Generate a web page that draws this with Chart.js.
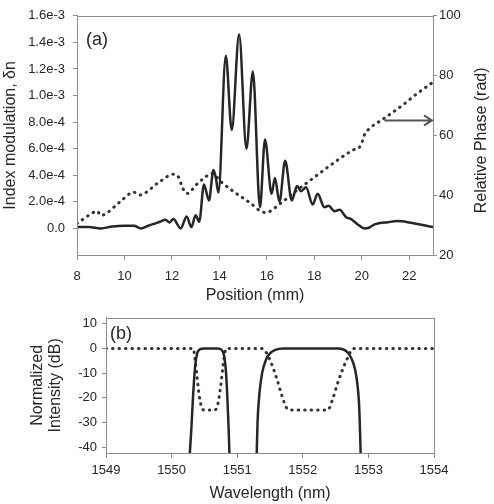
<!DOCTYPE html>
<html>
<head>
<meta charset="utf-8">
<script src="https://cdn.jsdelivr.net/npm/chart.js@4.4.1/dist/chart.umd.min.js"></script>
<style>
  body { margin: 0; background: #fff; }
  #wrap { position: relative; width: 494px; height: 504px; }
  canvas { position: absolute; left: 0; }
</style>
</head>
<body>
<div id="wrap">
  <canvas id="topChart" width="494" height="305" style="top:0"></canvas>
  <canvas id="bottomChart" width="494" height="199" style="top:305px"></canvas>
</div>
<script>
// ---- panel (a): index modulation (units of 1e-3) vs position ----
const positionMm = [8.0, 8.5, 9.0, 9.5, 10.0, 10.4, 10.7, 11.0, 11.25, 11.5, 11.73, 11.9, 12.06, 12.37,
  12.62, 12.82, 13.0, 13.15, 13.35, 13.56, 13.75, 13.85, 13.96, 14.27, 14.52, 14.83, 15.14, 15.41,
  15.71, 15.92, 16.2, 16.34, 16.53, 16.77, 17.05, 17.27, 17.44, 17.65, 17.93, 18.14, 18.42, 18.6,
  18.85, 19.06, 19.34, 19.55, 19.83, 20.11, 20.3, 20.54, 21.1, 21.5, 22.0, 23.0];
const indexMod = [0.01, 0.01, 0.0, 0.015, 0.02, 0.02, 0.0, 0.02, 0.035, 0.05, 0.065, 0.045, 0.07, 0.0,
  0.09, 0.01, 0.1, 0.05, 0.33, 0.21, 0.44, 0.38, 0.27, 1.30, 0.74, 1.46, 0.60, 1.18,
  0.16, 0.67, 0.26, 0.38, 0.20, 0.51, 0.21, 0.32, 0.28, 0.31, 0.18, 0.26, 0.16, 0.17,
  0.13, 0.14, 0.085, 0.07, 0.03, 0.0, 0.005, 0.03, 0.047, 0.055, 0.045, 0.01];

// ---- panel (a): relative phase (rad) ----
const phasePositionMm = [8.0, 8.25, 8.6, 8.85, 9.0, 9.25, 9.8, 10.4, 10.6, 11.5, 12.05, 12.25, 12.4,
  12.55, 12.7, 12.95, 13.35, 13.7, 14.05, 14.6, 15.3, 15.75, 15.95, 16.6, 17.1, 18.0, 18.85, 19.6,
  19.97, 20.1, 20.4, 20.85, 21.7, 22.3, 23.0];
const relativePhase = [30.5, 31.9, 33.8, 34.7, 33.2, 34.0, 37.7, 41.0, 40.0, 44.6, 47.0, 46.4, 43.5,
  41.0, 40.6, 42.9, 45.7, 47.3, 44.6, 41.2, 37.4, 34.6, 34.2, 37.4, 40.6, 46.0, 51.0, 55.0,
  56.8, 60.0, 62.8, 65.2, 70.0, 73.8, 77.8];

const positionTicks = [8, 10, 12, 14, 16, 18, 20, 22];
const indexTicks = [0, 0.2, 0.4, 0.6, 0.8, 1.0, 1.2, 1.4, 1.6];
const indexTickLabels = ['0.0', '2.0e-4', '4.0e-4', '6.0e-4', '8.0e-4', '1.0e-3', '1.2e-3', '1.4e-3', '1.6e-3'];
const phaseTicks = [20, 40, 60, 80, 100];
const arrowPhase = 65, arrowFrom = 20.95;

// ---- panel (b): normalized intensity (dB) vs wavelength ----
const band1Wl = [1550.26, 1550.30, 1550.33, 1550.36, 1550.39, 1550.43, 1550.5, 1550.7, 1550.76,
  1550.80, 1550.83, 1550.85, 1550.87, 1550.89];
const band1Db = [-50, -33, -18, -7, -2, -0.4, 0, 0, -0.5, -3, -10, -20, -33, -50];
const band2Wl = [1551.29, 1551.31, 1551.34, 1551.38, 1551.44, 1551.5, 1551.58, 1551.7, 1552.55,
  1552.64, 1552.71, 1552.77, 1552.82, 1552.86, 1552.89];
const band2Db = [-50, -30, -18, -10, -4.5, -2, -0.6, 0, 0, -0.7, -2.5, -6, -12, -24, -50];
const dipWl = [1549, 1550.33, 1550.36, 1550.39, 1550.42, 1550.46, 1550.5, 1550.66, 1550.71, 1550.75,
  1550.78, 1550.81, 1550.84, 1551.38, 1551.45, 1551.52, 1551.6, 1551.68, 1551.75, 1551.8, 1552.38,
  1552.45, 1552.52, 1552.6, 1552.68, 1552.77, 1554];
const dipDb = [0, 0, -5, -12, -19, -24, -25, -25, -22, -15, -8, -2, 0, 0, -2, -6, -12, -19, -24, -25, -25,
  -21, -15, -9, -4, 0, 0];
const wavelengthTicks = [1549, 1550, 1551, 1552, 1553, 1554];
const dbTicks = [-40, -30, -20, -10, 0, 10];

Chart.defaults.font.family = "'Liberation Sans', Arial, sans-serif";
Chart.defaults.font.size = 13;
Chart.defaults.color = '#262626';

const AXIS = '#8c8c8c';
const INK = '#262626';

const pts = (xs, ys) => xs.map((x, i) => ({ x: x, y: ys[i] }));
const fixedTicks = vals => scale => { scale.ticks = vals.map(v => ({ value: v })); };
const plain = v => String(v);
const axisGrid = { drawOnChartArea: false, drawTicks: true, tickLength: 5, color: AXIS };
const solid = { borderColor: INK, borderWidth: 2.5, pointRadius: 0, cubicInterpolationMode: 'monotone' };
const dotted = { borderColor: '#333', borderWidth: 3, borderDash: [0.5, 6], borderCapStyle: 'round',
  pointRadius: 0, cubicInterpolationMode: 'monotone' };

const framePlugin = {
  id: 'frame',
  afterDraw(chart, args, opts) {
    const { ctx, chartArea: a } = chart;
    ctx.save();
    ctx.strokeStyle = AXIS;
    ctx.lineWidth = 1;
    ctx.strokeRect(Math.round(a.left) + 0.5, Math.round(a.top) + 0.5,
      Math.round(a.right - a.left), Math.round(a.bottom - a.top));
    ctx.fillStyle = INK;
    ctx.font = "18px 'Liberation Sans', Arial, sans-serif";
    ctx.textBaseline = 'middle';
    ctx.fillText(opts.tag, a.left + opts.dx, a.top + opts.dy);

    if (opts.arrow) {
      const x0 = chart.scales.x.getPixelForValue(arrowFrom);
      const x1 = a.right - 1;
      const y = chart.scales.y2.getPixelForValue(arrowPhase);
      ctx.strokeStyle = '#555';
      ctx.lineWidth = 2;
      ctx.beginPath();
      ctx.moveTo(x0, y); ctx.lineTo(x1, y);
      ctx.moveTo(x1 - 8, y - 5); ctx.lineTo(x1, y); ctx.lineTo(x1 - 8, y + 5);
      ctx.stroke();
    }
    if (opts.rightTitle) {
      ctx.translate(482, (a.top + a.bottom) / 2 + 5);
      ctx.rotate(-Math.PI / 2);
      ctx.textAlign = 'center';
      ctx.font = "16px 'Liberation Sans', Arial, sans-serif";
      ctx.fillText(opts.rightTitle, 0, 0);
    }
    ctx.restore();
  }
};

new Chart(document.getElementById('topChart'), {
  type: 'line',
  data: {
    datasets: [
      Object.assign({ data: pts(positionMm, indexMod), yAxisID: 'y' }, solid),
      Object.assign({ data: pts(phasePositionMm, relativePhase), yAxisID: 'y2' }, dotted)
    ]
  },
  options: {
    responsive: false,
    animation: false,
    layout: { padding: { top: 13, left: 0, right: 0, bottom: 0 } },
    plugins: {
      legend: { display: false },
      tooltip: { enabled: false },
      frame: { tag: '(a)', dx: 9, dy: 24, arrow: true, rightTitle: 'Relative Phase (rad)' }
    },
    scales: {
      x: {
        type: 'linear', min: 8, max: 23,
        afterBuildTicks: fixedTicks(positionTicks),
        afterFit: s => { s.height = 50; },
        grid: axisGrid,
        border: { color: AXIS },
        ticks: { padding: 9, maxRotation: 0, callback: plain },
        title: { display: true, text: 'Position (mm)', font: { size: 16 }, padding: { top: 0, bottom: 0 } }
      },
      y: {
        position: 'left', min: -0.2, max: 1.6,
        afterBuildTicks: fixedTicks(indexTicks),
        afterFit: s => { s.width = 77; },
        grid: Object.assign({}, axisGrid, { tickLength: 4 }),
        border: { color: AXIS },
        ticks: { padding: 8, callback: v => indexTickLabels[indexTicks.indexOf(v)] },
        title: { display: true, text: 'Index modulation, δn', font: { size: 16 }, padding: { top: 1, bottom: 0 } }
      },
      y2: {
        position: 'right', min: 20, max: 100,
        afterBuildTicks: fixedTicks(phaseTicks),
        afterFit: s => { s.width = 61; },
        grid: Object.assign({}, axisGrid, { tickLength: 4 }),
        border: { color: AXIS },
        ticks: { padding: 2, callback: plain }
      }
    }
  },
  plugins: [framePlugin]
});

new Chart(document.getElementById('bottomChart'), {
  type: 'line',
  data: {
    datasets: [
      Object.assign({ data: pts(band1Wl, band1Db) }, solid),
      Object.assign({ data: pts(band2Wl, band2Db) }, solid),
      Object.assign({ data: pts(dipWl, dipDb) }, dotted)
    ]
  },
  options: {
    responsive: false,
    animation: false,
    layout: { padding: { top: 11, left: 0, right: 60, bottom: 0 } },
    plugins: {
      legend: { display: false },
      tooltip: { enabled: false },
      frame: { tag: '(b)', dx: 4, dy: 16 }
    },
    scales: {
      x: {
        type: 'linear', min: 1549, max: 1554,
        afterBuildTicks: fixedTicks(wavelengthTicks),
        afterFit: s => { s.height = 51; },
        grid: axisGrid,
        border: { color: AXIS },
        ticks: { padding: 5, maxRotation: 0, callback: plain },
        title: { display: true, text: 'Wavelength (nm)', font: { size: 16 }, padding: { top: 0, bottom: 1 } }
      },
      y: {
        min: -42.4, max: 12.4,
        afterBuildTicks: fixedTicks(dbTicks),
        afterFit: s => { s.width = 106; },
        grid: Object.assign({}, axisGrid, { tickLength: 4 }),
        border: { color: AXIS },
        ticks: { padding: 5, callback: plain },
        title: { display: true, text: ['Normalized', 'Intensity (dB)'], font: { size: 16, lineHeight: 1.15 },
          padding: { top: 28, bottom: 0 } }
      }
    }
  },
  plugins: [framePlugin]
});
</script>
</body>
</html>
